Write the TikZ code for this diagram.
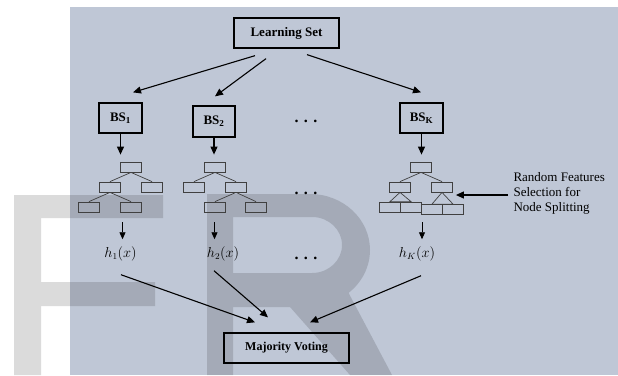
\documentclass[tikz,border=0pt]{standalone}
\usepackage{fontspec}
\setmainfont{Liberation Serif}
\usetikzlibrary{arrows.meta}
\definecolor{panel}{RGB}{191,199,214}

\begin{document}
\begin{tikzpicture}[x=1pt,y=-1pt,
	box/.style={draw,line width=1.3pt,inner sep=0pt,font=\fontsize{13}{13}\selectfont\bfseries},
	leaf/.style={draw=black!75,line width=0.8pt,minimum width=21pt,minimum height=10pt,inner sep=0pt},
	twig/.style={draw=black!75,line width=0.7pt},
	arr/.style={-{Triangle[length=8pt,width=7pt]},line width=1.1pt},
	smallarr/.style={-{Triangle[length=7pt,width=6pt]},line width=0.9pt},
	dots/.style={font=\fontsize{16}{16}\selectfont\bfseries},
	lbl/.style={font=\fontsize{13.5}{13.5}\selectfont},
	wmark/.style={fill=black,fill opacity=0.14}]
	\useasboundingbox (0,0) rectangle (618,375);
	\fill[panel] (70,7) rectangle (618,375);
	% watermark
	\fill[wmark] (14,195) -- (163,195) -- (163,218) -- (41,218) -- (41,282) -- (155,282) -- (155,306) -- (41,306) -- (41,375) -- (14,375) -- cycle;
	\fill[wmark,even odd rule] (207,375) -- (207,194) -- (310,194) arc[start angle=90,end angle=-50,x radius=60pt,y radius=56pt] -- (392,375) -- (350,375) -- (290,307) -- (233,307) -- (233,375) -- cycle
		(233,217) -- (312,217) arc[start angle=90,end angle=-90,x radius=30pt,y radius=28pt] -- (233,273) -- cycle;

	\node[box,minimum width=105pt,minimum height=30pt] (ls) at (286.5,33) {Learning Set};
	\node[box,minimum width=43pt,minimum height=30pt] (bs1) at (120.5,118) {BS\textsubscript{1}};
	\node[box,minimum width=42pt,minimum height=31pt] (bs2) at (214,121.5) {BS\textsubscript{2}};
	\node[box,minimum width=43pt,minimum height=30pt] (bsk) at (421.5,118) {BS\textsubscript{K}};
	\node[box,minimum width=125pt,minimum height=30pt,font=\fontsize{12}{12}\selectfont\bfseries] (mv) at (286.5,348) {Majority Voting};
	\node[dots] (dt1) at (306,121) {. . .};
	\node[dots] (dt2) at (306,193) {. . .};
	\node[dots] (dt3) at (306,258) {. . .};

	% trees
	\foreach \n/\x/\y in {r/131/167, a/110/187, b/152/187, c/89/207, d/131/207}
		\node[leaf] (t1\n) at (\x,\y) {};
	\foreach \n/\x/\y in {r/215/167, a/194/187, b/236/187, c/215/207, d/256/207}
		\node[leaf] (t2\n) at (\x,\y) {};
	\foreach \n/\x/\y in {r/421/167, a/400/187, b/442/187, c/390/207, d/411/207, e/432/209.5, f/453/209.5}
		\node[leaf] (tk\n) at (\x,\y) {};
	\foreach \p/\c in {r/a, r/b, a/c, a/d}
		\draw[twig] (t1\p.south) -- (t1\c.north);
	\foreach \p/\c in {r/a, r/b, b/c, b/d}
		\draw[twig] (t2\p.south) -- (t2\c.north);
	\foreach \c in {a,b}
		\draw[twig] (tkr.south) -- (tk\c.north);
	\draw[twig] (tka.south) -- (tkc.north) -- (tkd.north) -- cycle;
	\draw[twig] (tkb.south) -- (tke.north) -- (tkf.north) -- cycle;

	\node[lbl] (h1) at (120.5,254) {$h_1(x)$};
	\node[lbl] (h2) at (223,254) {$h_2(x)$};
	\node[lbl] (hk) at (417,254) {$h_K(x)$};
	\node[font=\fontsize{13}{15}\selectfont,align=left,anchor=west] (rnd) at (510,193) {Random Features\\Selection for\\Node Splitting};

	% arrows
	\draw[arr] ([xshift=-31.5pt,yshift=-7pt]ls.south) -- ([xshift=12.5pt,yshift=10pt]bs1.north);
	\draw[arr] ([xshift=-20.5pt,yshift=-10pt]ls.south) -- ([xshift=1pt,yshift=9pt]bs2.north);
	\draw[arr] ([xshift=20.5pt,yshift=-6pt]ls.south) -- ([xshift=-0.5pt,yshift=10pt]bsk.north);
	\draw[arr,shorten >=7pt] (bs1.south) -- (bs1.south |- t1r.north);
	\draw[arr,shorten >=7pt] (bs2.south) -- (bs2.south |- t2r.north);
	\draw[arr,shorten >=7pt] (bsk.south) -- (bsk.south |- tkr.north);
	\draw[smallarr] ([xshift=2pt,yshift=21pt]h1.north) -- ([xshift=2pt,yshift=4pt]h1.north);
	\draw[smallarr] ([xshift=-8.5pt,yshift=21pt]h2.north) -- ([xshift=-8.5pt,yshift=4pt]h2.north);
	\draw[smallarr] ([xshift=5pt,yshift=21pt]hk.north) -- ([xshift=5pt,yshift=4pt]hk.north);
	\draw[arr] ([xshift=-2pt,yshift=-2pt]rnd.west) -- ([xshift=3pt,yshift=-8pt]tkb.east);
	\draw[arr] ([xshift=0.5pt,yshift=-10pt]h1.south) -- ([xshift=-31.5pt,yshift=10pt]mv.north);
	\draw[arr] ([xshift=-9pt,yshift=-6pt]h2.south) -- ([xshift=-18.5pt,yshift=15pt]mv.north);
	\draw[arr] ([xshift=4pt,yshift=-11pt]hk.south) -- ([xshift=23.5pt,yshift=10pt]mv.north);
\end{tikzpicture}
\end{document}
